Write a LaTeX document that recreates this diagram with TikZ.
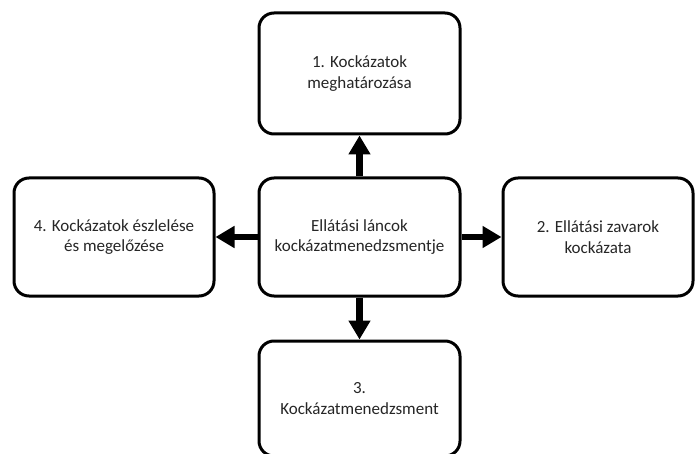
\documentclass[tikz,border=0pt]{standalone}
\usepackage{fontspec}
\setmainfont{Carlito}
\usetikzlibrary{arrows.meta}
\tikzset{
  stagebox/.style={draw=black, line width=3pt, rounded corners=15pt, fill=white,
    align=center, inner sep=4pt, text=black!85,
    font=\fontsize{17}{20.7}\selectfont},
  flowarrow/.style={line width=6.5pt, -{Triangle[length=19pt,width=21pt]}}
}
\begin{document}
\begin{tikzpicture}[x=1pt,y=-1pt]
  \useasboundingbox (0,0) rectangle (695,454);
  % central topic and the four stages around it
  \node[stagebox, minimum width=201pt, minimum height=118pt] (core) at (359.5,237)
    {Ellátási láncok\\kockázatmenedzsmentje};
  \node[stagebox, minimum width=201pt, minimum height=121pt] (s1) at (359.5,73.5)
    {1. Kockázatok\\meghatározása};
  \node[stagebox, minimum width=190pt, minimum height=118pt] (s2) at (598,237)
    {2. Ellátási zavarok\\kockázata};
  \node[stagebox, minimum width=201pt, minimum height=115pt] (s3) at (359.5,398.5)
    {3.\\Kockázatmenedzsment};
  \node[stagebox, minimum width=200pt, minimum height=118pt] (s4) at (114,237)
    {4. Kockázatok észlelése\\és megelőzése};
  % arrows from the centre to each stage
  \draw[flowarrow] (core.north) -- (s1.south);
  \draw[flowarrow] (core.east) -- (s2.west);
  \draw[flowarrow] (core.south) -- (s3.north);
  \draw[flowarrow] (core.west) -- (s4.east);
\end{tikzpicture}
\end{document}
